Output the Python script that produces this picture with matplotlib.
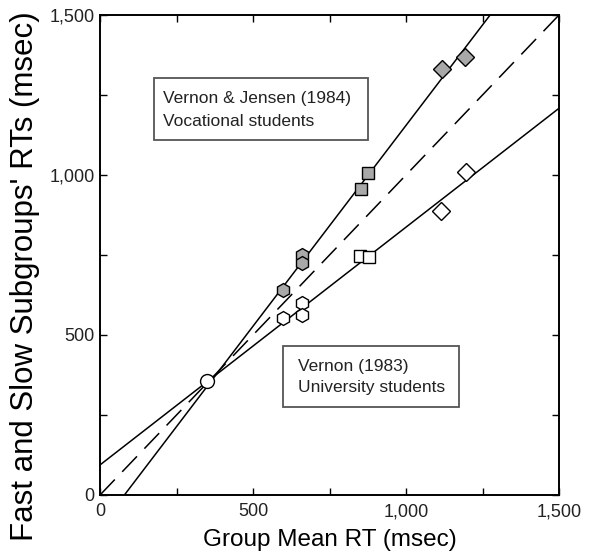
import matplotlib
matplotlib.use("Agg")
import matplotlib.pyplot as plt
from matplotlib.patches import Rectangle
import numpy as np

plt.rcParams['font.family'] = ['Liberation Sans', 'DejaVu Sans']

# Data (group mean RT, subgroup RT)
slow_hex_x = [598, 659, 659]
slow_hex_y = [641, 750, 725]
slow_sq_x = [853, 877]
slow_sq_y = [955, 1007]
slow_dia_x = [1117, 1193]
slow_dia_y = [1330, 1368]

fast_hex_x = [597, 659, 659]
fast_hex_y = [552, 599, 562]
fast_sq_x = [850, 879]
fast_sq_y = [747, 743]
fast_dia_x = [1113, 1195]
fast_dia_y = [888, 1008]

common_x = [350]
common_y = [355]

# Regression lines (intercept, slope)
slow_line = (-100, 1.255)
fast_line = (94, 0.743)

ticks_major = [0, 500, 1000, 1500]
tick_labels = ["0", "500", "1,000", "1,500"]
ticks_minor = [250, 750, 1250]

fig = plt.figure(figsize=(5.94, 5.59), dpi=100)
ax = fig.add_axes([0.1684, 0.1145, 0.7727, 0.8587])
ax.set_xlim(0, 1500)
ax.set_ylim(0, 1500)

xs = np.array([0, 1500])
ax.plot(xs, xs, color='black', lw=1.1, dashes=(14, 7), zorder=2)
ax.plot(xs, slow_line[0] + slow_line[1] * xs, color='black', lw=1.1, zorder=2)
ax.plot(xs, fast_line[0] + fast_line[1] * xs, color='black', lw=1.1, zorder=2)

gray = '#a9a9a9'
mk = dict(markeredgecolor='black', markeredgewidth=1.0, linestyle='none', zorder=3)
ax.plot(slow_hex_x, slow_hex_y, marker='h', ms=10, markerfacecolor=gray, **mk)
ax.plot(slow_sq_x, slow_sq_y, marker='s', ms=9, markerfacecolor=gray, **mk)
ax.plot(slow_dia_x, slow_dia_y, marker='D', ms=9.5, markerfacecolor=gray, **mk)
ax.plot(fast_hex_x, fast_hex_y, marker='h', ms=10, markerfacecolor='white', **mk)
ax.plot(fast_sq_x, fast_sq_y, marker='s', ms=9, markerfacecolor='white', **mk)
ax.plot(fast_dia_x, fast_dia_y, marker='D', ms=9.5, markerfacecolor='white', **mk)
ax.plot(common_x, common_y, marker='o', ms=10, markerfacecolor='white', **mk)

ax.set_xticks(ticks_major)
ax.set_xticklabels(tick_labels)
ax.set_yticks(ticks_major)
ax.set_yticklabels(tick_labels)
ax.set_xticks(ticks_minor, minor=True)
ax.set_yticks(ticks_minor, minor=True)
ax.tick_params(which='both', direction='in', top=True, right=True, length=5, width=1.0,
               labelsize=13, colors='black', labelcolor='#222222')
ax.tick_params(axis='x', pad=6)
ax.tick_params(axis='y', pad=4)
for s in ax.spines.values():
    s.set_linewidth(1.4)

ax.set_xlabel("Group Mean RT (msec)", fontsize=17.5, labelpad=6)
ax.set_ylabel("Fast and Slow Subgroups' RTs (msec)", fontsize=22.5)
ax.yaxis.set_label_coords(-0.163, 0.457)
ax.yaxis.label.set_va('center')

# annotation boxes
for (x0, y0, w, h) in [(0.1176, 0.7396, 0.4664, 0.1294), (0.3987, 0.1833, 0.3834, 0.1271)]:
    ax.add_patch(Rectangle((x0, y0), w, h, transform=ax.transAxes, facecolor='white',
                           edgecolor='#555555', lw=1.3, zorder=4))
ax.text(0.137, 0.802, "Vernon & Jensen (1984)\nVocational students", transform=ax.transAxes,
        fontsize=12.5, va='center', ha='left', linespacing=1.6, zorder=5, color='#222222')
ax.text(0.431, 0.246, "Vernon (1983)\nUniversity students", transform=ax.transAxes,
        fontsize=12.5, va='center', ha='left', linespacing=1.55, zorder=5, color='#222222')

fig.savefig("out.png", dpi=100)
